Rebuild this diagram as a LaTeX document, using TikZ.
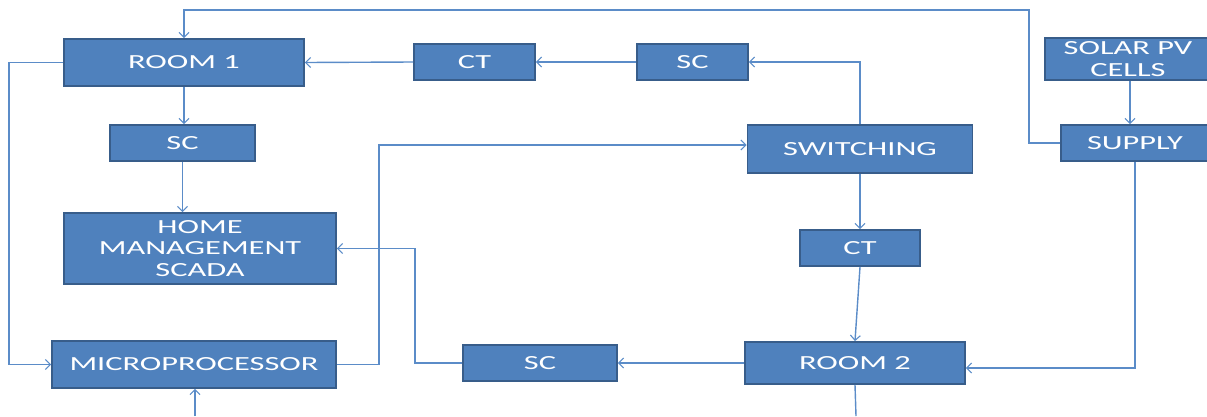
\documentclass[tikz,border=0pt]{standalone}
\usepackage{fontspec}
\newfontfamily\boxfont[FakeStretch=1.62]{Carlito}
\usetikzlibrary{arrows.meta}
\definecolor{boxfill}{HTML}{4F81BD}
\definecolor{boxedge}{HTML}{385D8A}
\definecolor{wire}{HTML}{5B8CC8}
\begin{document}
\begin{tikzpicture}[x=1pt, y=-1pt,
  box/.style={draw=boxedge, line width=1.8pt, fill=boxfill, text=white, inner sep=0pt,
    align=center, font=\boxfont\fontsize{20}{21.5}\selectfont},
  link/.style={draw=wire, line width=1.4pt},
  flow/.style={link, -{Straight Barb[length=5pt, width=10pt, line width=1.1pt]}}]
\useasboundingbox (0,0) rectangle (1207,416);
% top row
\node[box, minimum width=240pt, minimum height=47pt] (room1) at (184,62.5) {ROOM 1};
\node[box, minimum width=121pt, minimum height=36pt] (ct1) at (474.5,62) {CT};
\node[box, minimum width=111pt, minimum height=36pt] (sc1) at (692.5,62) {SC};
\node[box, minimum width=166pt, minimum height=42pt] (solar) at (1128,59) {SOLAR PV\\CELLS};
% second row
\node[box, minimum width=145pt, minimum height=36pt] (sc2) at (182.5,143) {SC};
\node[box, minimum width=225pt, minimum height=48pt] (sw) at (860,149) {SWITCHING};
\node[box, minimum width=148pt, minimum height=36pt] (supply) at (1135,143) {SUPPLY};
% middle
\node[box, minimum width=272pt, minimum height=71pt] (home) at (200,248.5) {HOME\\MANAGEMENT\\SCADA};
\node[box, minimum width=120pt, minimum height=36pt] (ct2) at (860,248) {CT};
% bottom row
\node[box, minimum width=284pt, minimum height=47pt] (micro) at (194,364.5) {MICROPROCESSOR};
\node[box, minimum width=154pt, minimum height=36pt] (sc3) at (540,363) {SC};
\node[box, minimum width=220pt, minimum height=42pt] (room2) at (855,363) {ROOM 2};
\coordinate (mpin) at (195,416);
\coordinate (r2out) at (856,416);
% connectors
\draw[flow] (supply.west) -| (1029,10) -| (room1.north);
\draw[flow] (ct1.west) -- (room1.east);
\draw[flow] (sc1.west) -- (ct1.east);
\draw[flow] (sw.north) |- (sc1.east);
\draw[flow] (room1.south) -- (room1.south |- sc2.north);
\draw[flow] (sc2.south) -- (sc2.south |- home.north);
\draw[flow] (room1.west) -- ++(-54,0) |- (micro.west);
\draw[flow] (micro.east) -- ++(42,0) |- ([yshift=4pt]sw.west);
\draw[flow] (sc3.west) -- ++(-47,0) |- (home.east);
\draw[flow] (room2.west) -- (sc3.east);
\draw[flow] (sw.south) -- (ct2.north);
\draw[flow] (ct2.south) -- (room2.north);
\draw[flow] (supply.south) |- ([yshift=-5pt]room2.east);
\draw[flow] ([xshift=2pt]solar.south) -- ([xshift=2pt]solar.south |- supply.north);
\draw[flow] (mpin) -- (mpin |- micro.south);
\draw[link] (room2.south) -- (r2out);
\end{tikzpicture}
\end{document}
